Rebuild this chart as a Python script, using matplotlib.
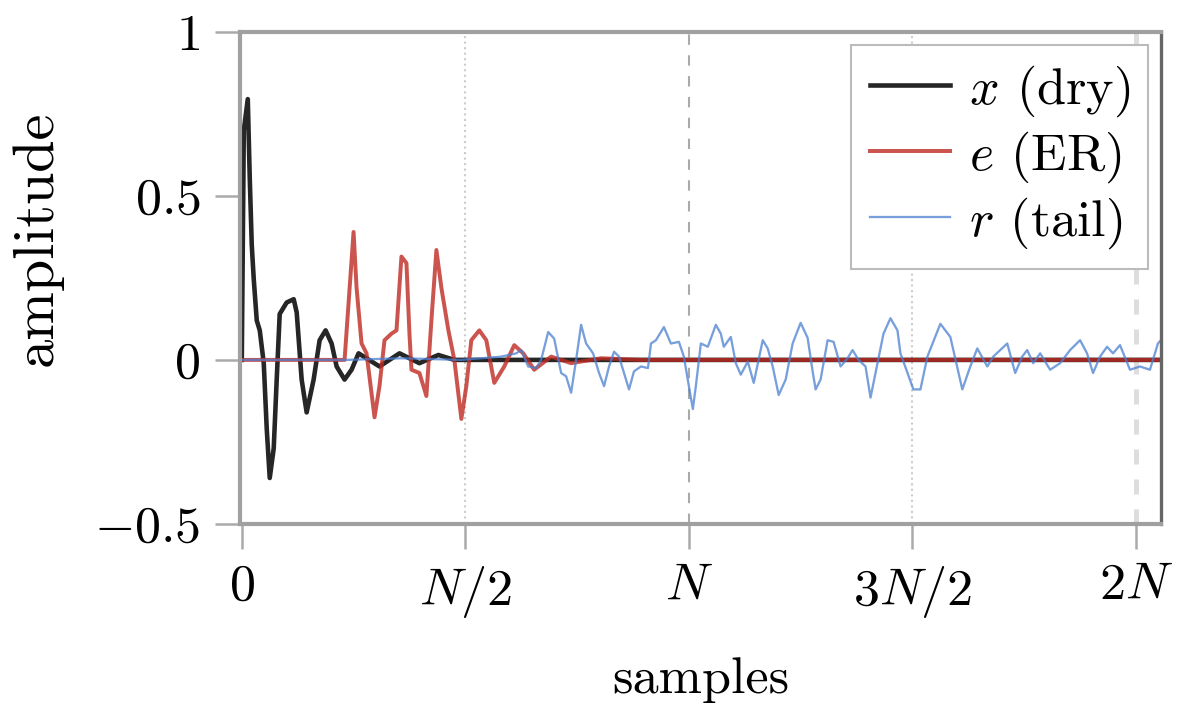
import numpy as np
import matplotlib
matplotlib.use("Agg")
import matplotlib.pyplot as plt

# positions in units of N, amplitude
x_dry_pos = [0.0, 0.0045, 0.0134, 0.0179, 0.0223, 0.0268, 0.0335, 0.0402, 0.0491,
             0.0558, 0.0625, 0.0714, 0.0781, 0.0848, 0.1004, 0.1161, 0.1228, 0.1339,
             0.1451, 0.1607, 0.1741, 0.1875, 0.2009, 0.2121, 0.2299, 0.2455, 0.2612,
             0.308, 0.3527, 0.3973, 0.4397, 0.4754, 2.06]
x_dry_val = [0.0, 0.70, 0.795, 0.55, 0.35, 0.245, 0.12, 0.09, -0.01,
             -0.21, -0.36, -0.27, -0.06, 0.14, 0.175, 0.185, 0.145, -0.06,
             -0.16, -0.06, 0.06, 0.09, 0.05, -0.02, -0.06, -0.03, 0.02,
             -0.02, 0.02, -0.01, 0.015, 0.0, 0.0]

e_er_pos = [0.0, 0.2299, 0.25, 0.2567, 0.2679, 0.279, 0.2969, 0.308, 0.3192, 0.3348,
            0.346, 0.3571, 0.3683, 0.375, 0.3795, 0.3973, 0.4129, 0.4241, 0.4353,
            0.4464, 0.4621, 0.4754, 0.4911, 0.5022, 0.5134, 0.5313, 0.5469, 0.5647,
            0.5871, 0.6094, 0.6295, 0.654, 0.692, 0.7366, 0.8036, 0.8929, 2.06]
e_er_val = [0.0, 0.0, 0.39, 0.22, 0.05, 0.02, -0.175, -0.08, 0.06, 0.08,
            0.09, 0.315, 0.295, 0.08, -0.03, -0.04, -0.11, 0.12, 0.335,
            0.22, 0.09, 0.0, -0.18, -0.08, 0.06, 0.09, 0.06, -0.07,
            -0.02, 0.045, 0.02, -0.03, 0.01, -0.01, 0.005, 0.0, 0.0]

r_tail_pos = [0.0, 0.2344, 0.3571, 0.4911, 0.5804, 0.6138, 0.625, 0.6406, 0.6585, 0.6696,
              0.6853, 0.6987, 0.7143, 0.7254, 0.7366, 0.7478, 0.7589, 0.7701, 0.7857,
              0.7991, 0.8103, 0.8214, 0.8326, 0.8438, 0.8549, 0.8661, 0.8772, 0.8929,
              0.9085, 0.9152, 0.9263, 0.9442, 0.9598, 0.9777, 0.9888, 1.0, 1.0089,
              1.0156, 1.0268, 1.0424, 1.0603, 1.0714, 1.0781, 1.0938, 1.1049, 1.1161,
              1.1317, 1.1451, 1.1652, 1.1763, 1.1875, 1.2009, 1.2165, 1.2321, 1.25,
              1.2656, 1.2768, 1.2835, 1.2946, 1.3103, 1.3237, 1.3393, 1.3549, 1.3661,
              1.3795, 1.3951, 1.4063, 1.4219, 1.4353, 1.4509, 1.4665, 1.4732, 1.5022,
              1.5179, 1.5335, 1.5625, 1.5848, 1.6116, 1.6295, 1.6451, 1.6674, 1.6808,
              1.6964, 1.7121, 1.7299, 1.7455, 1.7567, 1.7701, 1.7857, 1.808, 1.8304,
              1.8527, 1.875, 1.8906, 1.904, 1.9196, 1.9353, 1.9487, 1.9643, 1.9866,
              2.0089, 2.0313, 2.0491, 2.0558]
r_tail_val = [0.0, 0.0, 0.005, 0.0, 0.01, 0.02, 0.03, -0.02, -0.025, 0.0,
              0.085, 0.065, -0.04, -0.05, -0.1, 0.0, 0.107, 0.05, 0.02,
              -0.04, -0.08, -0.02, 0.025, 0.01, -0.04, -0.09, -0.035, -0.02,
              -0.025, 0.05, 0.06, 0.1, 0.05, 0.055, 0.01, -0.08, -0.15,
              -0.08, 0.05, 0.04, 0.107, 0.08, 0.04, 0.07, -0.01, -0.045,
              -0.005, -0.07, 0.06, 0.035, -0.02, -0.107, -0.06, 0.05, 0.113,
              0.067, -0.035, -0.09, -0.06, 0.06, 0.055, -0.02, 0.005, 0.03,
              0.0, -0.02, -0.115, -0.01, 0.08, 0.127, 0.09, 0.02, -0.09,
              -0.09, 0.01, 0.11, 0.07, -0.09, -0.02, 0.035, -0.02, 0.01,
              0.03, 0.05, -0.04, 0.01, 0.03, -0.01, 0.02, -0.03, -0.01,
              0.03, 0.06, 0.02, -0.04, 0.01, 0.04, 0.02, 0.045, -0.03,
              -0.02, -0.03, 0.05, 0.06]

xtick_pos = [0, 0.5, 1, 1.5, 2]
xtick_labels = ['$0$', '$N/2$', '$N$', '$3N/2$', '$2N$']
ytick_pos = [-0.5, 0, 0.5, 1]
ytick_labels = ['$-0.5$', '$0$', '$0.5$', '$1$']

plt.rcParams['font.family'] = 'serif'
plt.rcParams['font.serif'] = ['cmr10']
plt.rcParams['mathtext.fontset'] = 'cm'
plt.rcParams['axes.formatter.use_mathtext'] = True

fig = plt.figure(figsize=(4.0, 2.36), dpi=300)
ax = fig.add_axes([0.2, 0.26, 0.7675, 0.695])

# grid at the N/2 marks
for xp, ls, col, lw in [(0.5, ':', '#cccccc', 0.5), (1.0, (0, (5, 5)), '#aaaaaa', 0.5),
                        (1.5, ':', '#cccccc', 0.5), (2.0, (0, (3, 3)), '#dddddd', 1.2)]:
    ax.axvline(xp, color=col, ls=ls, lw=lw, zorder=0)

ax.plot(x_dry_pos, x_dry_val, color='black', alpha=0.85, lw=1.1, label='$x$ (dry)')
ax.plot(e_er_pos, e_er_val, color='#bf2a22', alpha=0.8, lw=0.95, label='$e$ (ER)')
ax.plot(r_tail_pos, r_tail_val, color='#4a7fd0', alpha=0.75, lw=0.55, label='$r$ (tail)')

ax.set_xlim(-0.004, 2.056)
ax.set_ylim(-0.5, 1.0)
ax.set_xticks(xtick_pos)
ax.set_xticklabels(xtick_labels)
ax.set_yticks(ytick_pos)
ax.set_yticklabels(ytick_labels)
ax.tick_params(direction='out', length=6, width=0.6, color='#aaaaaa',
               labelsize=12.5, pad=3.5)

for side in ['left', 'top', 'bottom']:
    ax.spines[side].set_color('#a0a0a0')
    ax.spines[side].set_linewidth(1.0)
ax.spines['right'].set_color('#666666')
ax.spines['right'].set_linewidth(0.8)

ax.set_xlabel('samples', fontsize=12.5, labelpad=9)
ax.set_ylabel('amplitude', fontsize=14)
ax.yaxis.set_label_coords(-0.193, 0.58)

leg = ax.legend(loc='upper right', fontsize=12.5, fancybox=False, framealpha=1,
                edgecolor='#bbbbbb', handlelength=1.55, handletextpad=0.35,
                labelspacing=0.2, borderpad=0.35, borderaxespad=0.25)
leg.get_frame().set_linewidth(0.5)

fig.savefig('out.png', dpi=300)
